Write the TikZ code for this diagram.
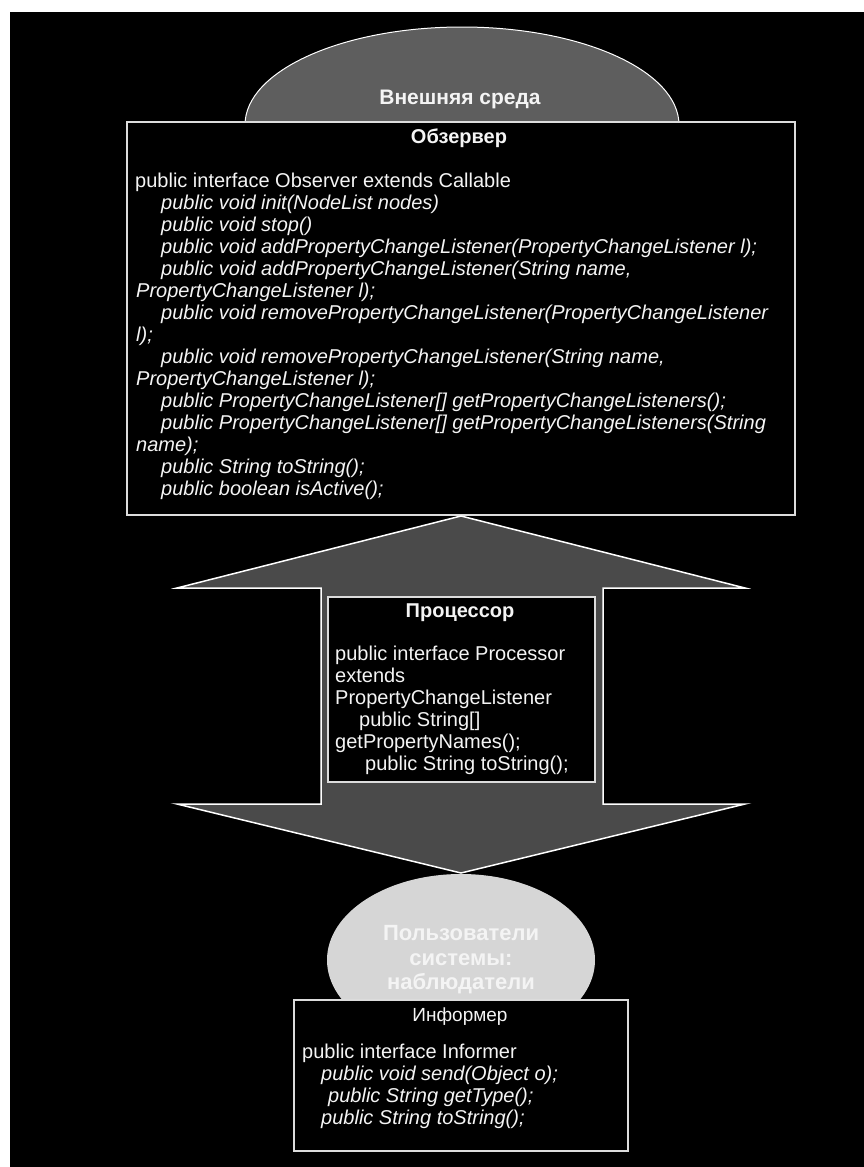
\documentclass[tikz,border=0pt]{standalone}
\usepackage{fontspec}
\setmainfont{Liberation Sans}
\usepackage{tikz}
\usetikzlibrary{shapes.geometric,calc}
\usepackage{xcolor}
\definecolor{EnvGray}{HTML}{5E5E5E}
\definecolor{ArrowGray}{HTML}{4A4A4A}
\definecolor{UserGray}{HTML}{D6D6D6}
\definecolor{LineGray}{HTML}{DCDCDC}
\definecolor{InkWhite}{HTML}{F4F4F4}
\newcommand{\meth}[2][26pt]{\hspace*{#1}\textit{#2}}

\begin{document}
\begin{tikzpicture}[x=1pt,y=-1pt,
  ifacebox/.style={draw=LineGray,line width=1.5pt,fill=black,inner sep=0pt},
  codetext/.style={anchor=north west,inner sep=0pt,text=InkWhite,align=left,font=\fontsize{20}{22}\selectfont},
  boxtitle/.style={inner sep=0pt,text=InkWhite,font=\fontsize{20}{22}\selectfont\bfseries}]
\useasboundingbox (0,0) rectangle (864,1167);
\fill[white] (0,0) rectangle (864,1167);
\fill[black] (10,12) rectangle (864,1167);

\node[ellipse,fill=EnvGray,draw=white,line width=1pt,minimum width=434pt,minimum height=196pt] (env) at (462,125) {};
\node[boxtitle,font=\fontsize{21}{24}\selectfont\bfseries] (envtitle) at (460,99) {Внешняя среда};

\node[ifacebox,minimum width=668pt,minimum height=393pt] (obs) at (461,318.5) {};
\node[boxtitle] (obstitle) at (459,138) {Обзервер};
\node[codetext] (obscode) at (135,172.2) {\rule{0pt}{15pt}public interface Observer extends Callable\\
\meth{public void init(NodeList nodes)}\\
\meth{public void stop()}\\
\meth{public void addPropertyChangeListener(PropertyChangeListener l);}\\
\meth{public void addPropertyChangeListener(String name,}\\
\meth[1pt]{PropertyChangeListener l);}\\
\meth{public void removePropertyChangeListener(PropertyChangeListener}\\
\meth[1pt]{l);}\\
\meth{public void removePropertyChangeListener(String name,}\\
\meth[1pt]{PropertyChangeListener l);}\\
\meth{public PropertyChangeListener[] getPropertyChangeListeners();}\\
\meth{public PropertyChangeListener[] getPropertyChangeListeners(String}\\
\meth[1pt]{name);}\\
\meth{public String toString();}\\
\meth{public boolean isActive();}};

\draw[fill=ArrowGray,draw=white,line width=1.5pt,line join=miter]
  (461,516) -- (745,588) -- (603,588) -- (603,804) -- (745,804) -- (461,873)
  -- (177,804) -- (321,804) -- (321,588) -- (177,588) -- cycle;

\node[ifacebox,minimum width=267pt,minimum height=185pt] (proc) at (461.5,689.5) {};
\node[boxtitle] (proctitle) at (460,613) {Процессор};
\node[codetext] (proccode) at (335,645.2) {\rule{0pt}{15pt}public interface Processor\\
extends\\
PropertyChangeListener\\
\hspace*{24pt}public String[]\\
getPropertyNames();\\
\hspace*{30pt}public String toString();};

\node[ellipse,fill=UserGray,minimum width=268pt,minimum height=172pt,align=center,
  text=InkWhite,font=\fontsize{22}{24.5}\selectfont\bfseries] (users) at (461,960)
  {Пользователи\\системы:\\наблюдатели};

\node[ifacebox,minimum width=334pt,minimum height=151pt] (inf) at (461,1075.5) {};
\node[boxtitle,font=\fontsize{19}{22}\selectfont] (inftitle) at (460,1017) {Информер};
\node[codetext] (infcode) at (302,1043.2) {\rule{0pt}{15pt}public interface Informer\\
\meth[19pt]{public void send(Object o);}\\
\meth[26pt]{public String getType();}\\
\meth[19pt]{public String toString();}};
\end{tikzpicture}
\end{document}
